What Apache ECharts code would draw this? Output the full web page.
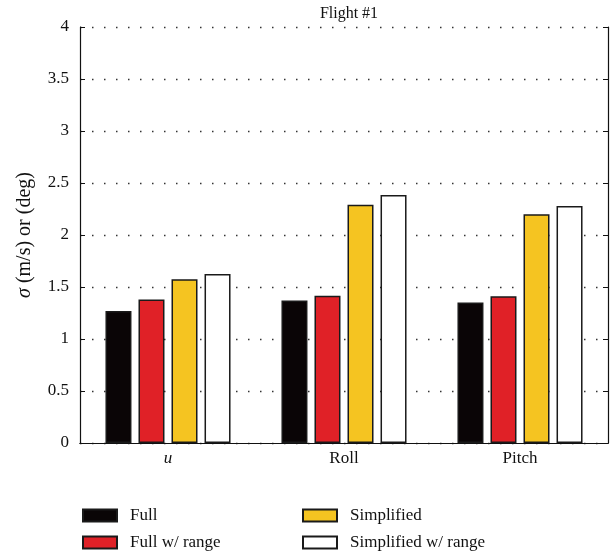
<!DOCTYPE html>
<html><head><meta charset="utf-8">
<script src="https://cdn.jsdelivr.net/npm/echarts@6/dist/echarts.min.js"></script>
<style>html,body{margin:0;padding:0;background:#fff}#c{width:616px;height:558px}</style>
</head><body><div id="c"></div>
<script>
const categories = ['u', 'Roll', 'Pitch'];
const seriesNames = ['Full', 'Simplified', 'Full w/ range', 'Simplified w/ range'];
const fullVals = [1.27, 1.37, 1.35];
const fullRangeVals = [1.38, 1.415, 1.41];
const simplifiedVals = [1.575, 2.29, 2.20];
const simplifiedRangeVals = [1.625, 2.385, 2.28];
const yTicks = [0, 0.5, 1, 1.5, 2, 2.5, 3, 3.5, 4];
const titleText = 'Flight #1';
const yName = '{i|σ} (m/s) or (deg)';

const FONT = 'Liberation Serif';
const seriesDefs = [
  { name: 'Full', data: fullVals, color: '#0a0506' },
  { name: 'Full w/ range', data: fullRangeVals, color: '#e02127' },
  { name: 'Simplified', data: simplifiedVals, color: '#f5c421' },
  { name: 'Simplified w/ range', data: simplifiedRangeVals, color: '#ffffff' }
];

const chart = echarts.init(document.getElementById('c'));
chart.setOption({
  animation: false,
  title: { text: titleText, left: 344, textAlign: 'center', top: 1,
    textStyle: { fontFamily: FONT, fontSize: 16, fontWeight: 'normal', color: '#111' } },
  grid: { left: 80, right: 8, top: 27, bottom: 115 },
  legend: {
    data: seriesNames, orient: 'horizontal', left: 82, top: 507, width: 460,
    icon: 'rect', itemWidth: 34, itemHeight: 12, itemGap: 10, padding: 0,
    textStyle: { fontFamily: FONT, fontSize: 17, color: '#111', width: 162, lineHeight: 16,
      padding: [0, 0, 0, 8] }
  },
  xAxis: [
    { type: 'category', data: categories, position: 'bottom',
      axisLine: { lineStyle: { color: '#111', width: 1.2 } },
      axisTick: { inside: true, alignWithLabel: true, length: 5, lineStyle: { color: '#111' } },
      axisLabel: { fontFamily: FONT, fontSize: 17, color: '#111', margin: 7,
        formatter: v => v === 'u' ? '{i|u}' : v,
        rich: { i: { fontFamily: FONT, fontStyle: 'italic', fontSize: 17, color: '#111' } } } },
    { type: 'category', data: categories, position: 'top',
      axisLine: { lineStyle: { color: '#111', width: 1.2 } },
      axisTick: { inside: true, alignWithLabel: true, length: 5, lineStyle: { color: '#111' } },
      axisLabel: { show: false } }
  ],
  yAxis: [
    { type: 'value', min: 0, max: 4, interval: 0.5, position: 'left',
      name: yName, nameLocation: 'middle', nameRotate: 90, nameGap: 45,
      nameTextStyle: { fontFamily: FONT, fontSize: 20, color: '#111',
        rich: { i: { fontFamily: FONT, fontStyle: 'italic', fontSize: 20, color: '#111' } } },
      axisLine: { show: true, lineStyle: { color: '#111', width: 1.2 } },
      axisTick: { show: true, inside: true, length: 5, lineStyle: { color: '#111' } },
      axisLabel: { fontFamily: FONT, fontSize: 17, color: '#111', margin: 11,
        formatter: v => yTicks.includes(v) ? String(v) : '' },
      splitLine: { show: true, lineStyle: { color: '#333', type: [1.5, 10.5], width: 1.3 } } },
    { type: 'value', min: 0, max: 4, interval: 0.5, position: 'right',
      axisLine: { show: true, lineStyle: { color: '#111', width: 1.2 } },
      axisTick: { show: true, inside: true, length: 5, lineStyle: { color: '#111' } },
      axisLabel: { show: false }, splitLine: { show: false } }
  ],
  series: seriesDefs.map(s => ({
    name: s.name, type: 'bar', data: s.data, barWidth: 26, barGap: '27%',
    itemStyle: { color: s.color, borderColor: '#1a1a1a', borderWidth: 1.5 }
  }))
});
</script></body></html>
